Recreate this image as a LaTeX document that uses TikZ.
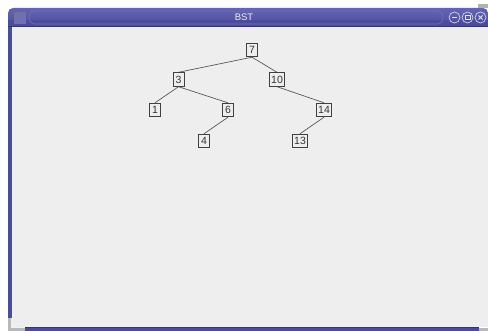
\documentclass[tikz,border=0pt]{standalone}
\usepackage{fontspec}
\setmainfont{Liberation Sans}
\pgfdeclarelayer{bg}
\pgfdeclarelayer{edges}
\pgfsetlayers{bg,edges,main}
\begin{document}
\begin{tikzpicture}[x=1pt,y=-1pt,
  tnode/.style={draw=black!75,fill=panel,line width=0.8pt,font=\fontsize{10.5}{11}\selectfont,
    text=black!80,inner xsep=2pt,inner ysep=3pt,text height=7.6pt,text depth=0pt,minimum width=11pt},
  tedge/.style={draw=black!65,line width=0.7pt},
  winbtn/.style={circle,draw=white!75!wbar,line width=0.7pt,minimum size=11pt,inner sep=0pt}]
\definecolor{panel}{HTML}{EEEEEE}
\definecolor{wbar}{HTML}{4C4C9C}
\definecolor{wbarlight}{HTML}{6464B4}
\definecolor{wbardark}{HTML}{34346E}
\useasboundingbox (0,0) rectangle (488,331);
\begin{pgfonlayer}{bg}
\fill[white] (0,0) rectangle (488,331);
% window frame
\shade[top color=wbarlight,bottom color=wbar,rounded corners=5pt] (8,27) -- (8,8) -- (488,8) -- (488,27) -- cycle;
\fill[wbar] (8,20) rectangle (488,27);
\draw[wbardark,line width=1pt] (8,26.5) -- (488,26.5);
\draw[white!20!wbar,line width=0.6pt,rounded corners=6pt] (36,11) -- (29,11) -- (29,24) -- (443,24) -- (443,11) -- cycle;
\fill[white!20!wbar,draw=wbardark!70,line width=0.5pt] (14,12) rectangle (25,23);
\fill[gray!60] (478,4) rectangle (488,8);
% left and bottom borders
\fill[wbar] (8,27) rectangle (12,320);
\fill[gray!55] (8,318) rectangle (25,331);
\fill[white!90!gray] (11,318) rectangle (25,328);
\fill[wbar] (25,328) rectangle (479,331);
\fill[wbardark] (25,327.5) rectangle (479,328.3);
\fill[gray!55] (479,328) rectangle (488,331);
% panel
\fill[panel] (12,27) rectangle (488,327.5);
\end{pgfonlayer}
\node (title) at (244,17.5) {\color{white!90!wbar}\fontsize{9.5}{10}\selectfont BST};
\node[winbtn] (bmin) at (454.5,17.5) {};
\node[winbtn] (bmax) at (467.5,17.5) {};
\node[winbtn] (bclose) at (480.5,17.5) {};
\draw[white!85!wbar,line width=1pt] ([xshift=-2.5pt]bmin.center) -- ([xshift=2.5pt]bmin.center);
\draw[white!85!wbar,line width=0.8pt] ([shift={(-2.5pt,-2pt)}]bmax.center) rectangle ([shift={(2.5pt,2pt)}]bmax.center);
\draw[white!85!wbar,line width=1pt] ([shift={(-2pt,-2pt)}]bclose.center) -- ([shift={(2pt,2pt)}]bclose.center)
  ([shift={(-2pt,2pt)}]bclose.center) -- ([shift={(2pt,-2pt)}]bclose.center);
% tree
\node[tnode] (n7) at (252,50) {7};
\node[tnode] (n3) at (178.5,79.5) {3};
\node[tnode] (n10) at (277,79.5) {10};
\node[tnode] (n1) at (155,110) {1};
\node[tnode] (n6) at (228,110) {6};
\node[tnode] (n14) at (324,110) {14};
\node[tnode] (n4) at (204,141) {4};
\node[tnode] (n13) at (300,141) {13};
\begin{pgfonlayer}{edges}
\path[tedge] (n7.south) -- (n3.north) (n7.south) -- (n10.north)
  (n3.south) -- (n1.north) (n3.south) -- (n6.north)
  (n6.south) -- (n4.north) (n10.south) -- (n14.north)
  (n14.south) -- (n13.north);
\end{pgfonlayer}
\end{tikzpicture}
\end{document}
